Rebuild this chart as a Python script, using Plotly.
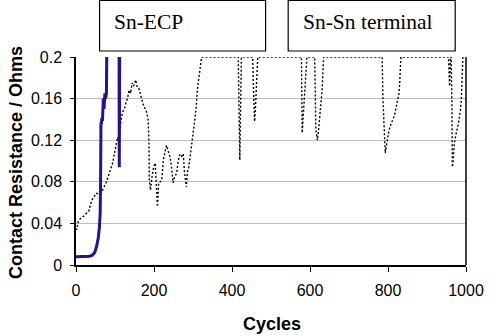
import plotly.graph_objects as go

# ---- data ----
ecp_cycles = [0, 20, 35, 42, 48, 53, 57, 60, 62, 63, 64, 64.5, 65, 66, 68, 70, 72, 74, 76,
              78, 79, 80, 81, 95, 110, 111, 112, 113, 125]
ecp_res = [0.008, 0.008, 0.0085, 0.0095, 0.012, 0.018, 0.026, 0.036, 0.05, 0.08, 0.137, 0.09,
           0.135, 0.14, 0.14, 0.16, 0.15, 0.165, 0.16, 0.165, 0.19, 0.21, 0.3, 0.3, 0.3,
           0.094, 0.2, 0.3, 0.3]

snsn_cycles = [0, 2, 6, 12, 20, 27, 33, 40, 46, 52, 60, 68, 77, 86, 94, 102, 107, 110, 114,
               119, 124, 128, 132, 136, 140, 144, 148, 153, 157, 161, 165, 170, 174, 178, 182,
               185, 187, 188, 190, 191, 195, 199, 203, 206, 209, 212, 216, 220, 224, 228, 232,
               236, 241, 245, 249, 253, 258, 262, 266, 270, 275, 278, 280, 283, 286, 289, 293,
               296, 300, 304, 308, 311, 314, 317, 322,
               330, 360, 400, 416, 418, 420, 422, 424, 440, 450, 453, 455, 458, 460, 463, 466,
               500, 550, 578, 580, 582, 584, 586, 588, 590, 592, 600, 610, 612, 615, 619, 622,
               625, 628, 631, 635, 650, 700, 750, 785, 787, 793, 796, 799, 803, 808, 812, 816,
               820, 824, 828, 830, 833, 850, 900, 955, 957, 958, 960, 962, 964, 965, 967, 970,
               974, 978, 982, 986, 988, 990, 992, 995]
snsn_res = [0.035, 0.034, 0.042, 0.045, 0.047, 0.05, 0.052, 0.062, 0.066, 0.069, 0.068, 0.072,
            0.079, 0.088, 0.098, 0.114, 0.123, 0.118, 0.135, 0.147, 0.15, 0.156, 0.16, 0.168,
            0.165, 0.175, 0.172, 0.178, 0.171, 0.17, 0.165, 0.158, 0.152, 0.15, 0.146, 0.139,
            0.12, 0.082, 0.075, 0.072, 0.085, 0.094, 0.098, 0.079, 0.056, 0.079, 0.08, 0.082,
            0.101, 0.108, 0.115, 0.11, 0.104, 0.094, 0.079, 0.085, 0.088, 0.1, 0.106, 0.104,
            0.107, 0.09, 0.082, 0.075, 0.09, 0.094, 0.105, 0.114, 0.123, 0.133, 0.15, 0.168,
            0.178, 0.1875, 0.2,
            0.2, 0.2, 0.2, 0.2, 0.15, 0.101, 0.15, 0.2, 0.2, 0.2, 0.2, 0.17, 0.138, 0.15, 0.175,
            0.2, 0.2, 0.2, 0.2, 0.127, 0.14, 0.156, 0.17, 0.185, 0.19, 0.2, 0.2, 0.2, 0.2, 0.13,
            0.12, 0.13, 0.143, 0.155, 0.168, 0.2, 0.2, 0.2, 0.2, 0.2, 0.16, 0.1075, 0.115, 0.123,
            0.13, 0.136, 0.14, 0.143, 0.15, 0.159, 0.165, 0.175, 0.2, 0.2, 0.2, 0.2, 0.18, 0.172,
            0.2, 0.2, 0.15, 0.094, 0.1, 0.117, 0.125, 0.132, 0.139, 0.15, 0.159, 0.18, 0.2, 0.2]

y_ticks = [0, 0.04, 0.08, 0.12, 0.16, 0.2]
y_tick_text = ["0", "0.04", "0.08", "0.12", "0.16", "0.2"]
x_ticks = [0, 200, 400, 600, 800, 1000]
legend_labels = ["Sn-ECP", "Sn-Sn terminal"]

W, H = 496, 336
ML, MR, MT, MB = 76, 23, 57, 71
PW, PH = W - ML - MR, H - MT - MB


def px(x):
    return (x - ML) / PW


def py(y):
    return (H - MB - y) / PH


fig = go.Figure()
fig.add_trace(go.Scatter(x=snsn_cycles, y=snsn_res, mode="lines", name=legend_labels[1],
                         line=dict(color="black", width=1.4, dash="2px,2px")))
fig.add_trace(go.Scatter(x=ecp_cycles, y=ecp_res, mode="lines", name=legend_labels[0],
                         line=dict(color="#2A118C", width=3)))

axis_font = dict(family="Liberation Sans, Arial", size=16, color="black")
fig.update_layout(
    width=W, height=H,
    margin=dict(l=ML, r=MR, t=MT, b=MB),
    paper_bgcolor="white", plot_bgcolor="white",
    showlegend=False,
    xaxis=dict(range=[0, 1000], tickvals=x_ticks, showgrid=False, zeroline=False,
               showline=True, linecolor="black", linewidth=1.5, mirror=False,
               ticks="outside", ticklen=5, tickcolor="black", tickfont=axis_font,
               ticklabelstandoff=5),
    yaxis=dict(range=[0, 0.2], tickvals=y_ticks, ticktext=y_tick_text,
               showgrid=True, gridcolor="#BDBDBD", gridwidth=1, zeroline=False,
               showline=True, linecolor="black", linewidth=1.5,
               ticks="outside", ticklen=4, tickcolor="black", tickfont=axis_font,
               ticklabelstandoff=5),
)

# right border of plot area
fig.add_shape(type="line", xref="paper", yref="paper", x0=1, x1=1, y0=0, y1=1,
              line=dict(color="black", width=1.5))

# legend boxes (clipped at the top in the reference)
boxes = [(100, 269), (292, 462)]
for (bx0, bx1), label in zip(boxes, legend_labels):
    fig.add_shape(type="rect", xref="paper", yref="paper",
                  x0=px(bx0), x1=px(bx1), y0=py(51), y1=py(0.5),
                  line=dict(color="black", width=1.2), fillcolor="white", layer="above")
    fig.add_annotation(xref="paper", yref="paper", x=px(bx0 + 13), y=py(22),
                       xanchor="left", yanchor="middle", showarrow=False, text=label,
                       font=dict(family="Liberation Serif, Times New Roman", size=21.5,
                                 color="black"))

title_font = dict(family="Liberation Sans, Arial", size=18, color="black")
fig.add_annotation(xref="paper", yref="paper", x=px(276), y=py(324), text="<b>Cycles</b>",
                   showarrow=False, xanchor="center", yanchor="middle", font=title_font)
fig.add_annotation(xref="paper", yref="paper", x=px(15), y=py(163),
                   text="<b>Contact Resistance / Ohms</b>", textangle=-90,
                   showarrow=False, xanchor="center", yanchor="middle", font=title_font)

fig.write_html("out.html")
